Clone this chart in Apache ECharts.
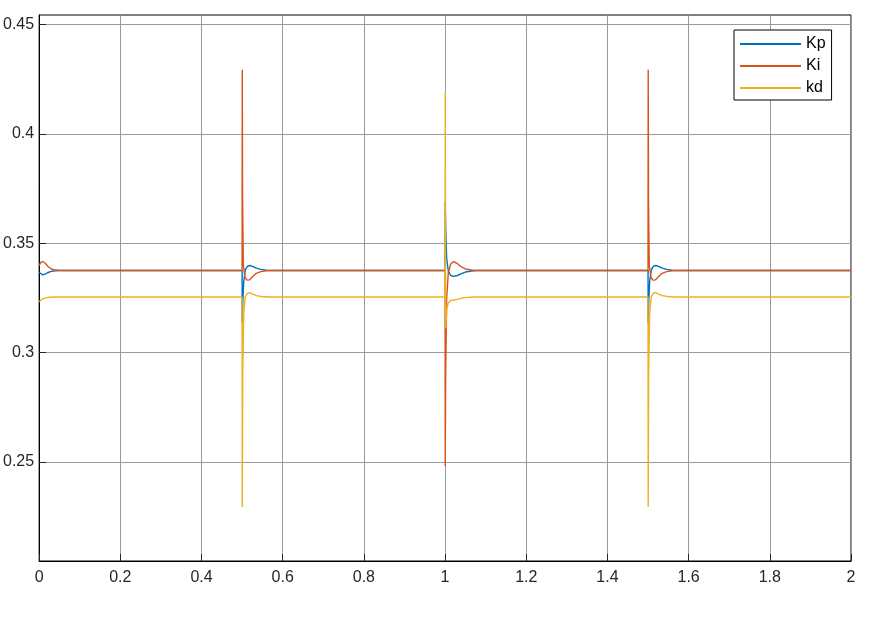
<!DOCTYPE html>
<html>
<head>
<meta charset="utf-8">
<script src="https://cdn.jsdelivr.net/npm/echarts@6/dist/echarts.min.js"></script>
<style>html,body{margin:0;padding:0;background:#fff}#c{width:875px;height:619px}</style>
</head>
<body>
<div id="c"></div>
<script>
// series names
const seriesNames = ['Kp', 'Ki', 'kd'];
// tick values
const xTicks = [0, 0.2, 0.4, 0.6, 0.8, 1, 1.2, 1.4, 1.6, 1.8, 2];
const yTicks = [0.25, 0.3, 0.35, 0.4, 0.45];

// Kp
const kpT = [0, 0.004, 0.009, 0.015, 0.022, 0.03, 0.04, 0.055,
  0.5, 0.5004, 0.5015, 0.504, 0.508, 0.513, 0.519, 0.526, 0.535, 0.546, 0.56, 0.575,
  1.0, 1.0004, 1.0015, 1.004, 1.008, 1.014, 1.021, 1.029, 1.039, 1.05, 1.065, 1.08,
  1.5, 1.5004, 1.5015, 1.504, 1.508, 1.513, 1.519, 1.526, 1.535, 1.546, 1.56, 1.575,
  2.0];
const kpV = [0.3366, 0.3358, 0.3355, 0.3359, 0.3366, 0.3371, 0.3374, 0.3375,
  0.3375, 0.3135, 0.3220, 0.3325, 0.3378, 0.3394, 0.3398, 0.3394, 0.3386, 0.3380, 0.3376, 0.3375,
  0.3375, 0.3689, 0.3570, 0.3430, 0.3372, 0.3352, 0.3348, 0.3351, 0.3360, 0.3368, 0.3373, 0.3375,
  0.3375, 0.3135, 0.3220, 0.3325, 0.3378, 0.3394, 0.3398, 0.3394, 0.3386, 0.3380, 0.3376, 0.3375,
  0.3375];

// Ki
const kiT = [0, 0.004, 0.009, 0.015, 0.022, 0.03, 0.04, 0.055,
  0.5, 0.5004, 0.5012, 0.503, 0.507, 0.512, 0.518, 0.525, 0.535, 0.546, 0.56, 0.575,
  1.0, 1.0004, 1.0015, 1.004, 1.008, 1.014, 1.021, 1.029, 1.039, 1.05, 1.065, 1.08,
  1.5, 1.5004, 1.5012, 1.503, 1.507, 1.512, 1.518, 1.525, 1.535, 1.546, 1.56, 1.575,
  2.0];
const kiV = [0.3398, 0.3412, 0.3416, 0.3408, 0.3393, 0.3382, 0.3377, 0.3375,
  0.3375, 0.4293, 0.3700, 0.3400, 0.3345, 0.3331, 0.3332, 0.3345, 0.3362, 0.3370, 0.3374, 0.3375,
  0.3375, 0.2481, 0.2900, 0.3250, 0.3365, 0.3405, 0.3416, 0.3408, 0.3393, 0.3382, 0.3377, 0.3375,
  0.3375, 0.4293, 0.3700, 0.3400, 0.3345, 0.3331, 0.3332, 0.3345, 0.3362, 0.3370, 0.3374, 0.3375,
  0.3375];

// kd
const kdT = [0, 0.003, 0.008, 0.015, 0.025, 0.04,
  0.5, 0.5004, 0.5015, 0.504, 0.508, 0.513, 0.518, 0.525, 0.535, 0.548, 0.565,
  1.0, 1.0004, 1.0015, 1.004, 1.008, 1.014, 1.021, 1.03, 1.042, 1.055, 1.07,
  1.5, 1.5004, 1.5015, 1.504, 1.508, 1.513, 1.518, 1.525, 1.535, 1.548, 1.565,
  2.0];
const kdV = [0.3232, 0.3238, 0.3245, 0.3250, 0.3253, 0.3254,
  0.3254, 0.2294, 0.2900, 0.3180, 0.3255, 0.3270, 0.3274, 0.3268, 0.3260, 0.3256, 0.3254,
  0.3254, 0.4188, 0.3110, 0.3195, 0.3228, 0.3238, 0.3240, 0.3243, 0.3249, 0.3252, 0.3254,
  0.3254, 0.2294, 0.2900, 0.3180, 0.3255, 0.3270, 0.3274, 0.3268, 0.3260, 0.3256, 0.3254,
  0.3254];

const colors = ['#0072BD', '#D95319', '#EDB120'];
const pairs = (t, v) => t.map((x, i) => [x, v[i]]);
const seriesData = [pairs(kpT, kpV), pairs(kiT, kiV), pairs(kdT, kdV)];

const font = "'Liberation Sans', Arial, Helvetica, sans-serif";
const chart = echarts.init(document.getElementById('c'), null, {renderer: 'canvas'});
chart.setOption({
  animation: false,
  backgroundColor: '#fff',
  color: colors,
  grid: {left: 39, right: 24, top: 15, bottom: 58, show: true, borderColor: '#000', borderWidth: 1, backgroundColor: '#fff'},
  legend: {
    data: seriesNames,
    orient: 'vertical',
    left: 734, top: 30,
    padding: [6, 6, 4, 6],
    itemGap: 6,
    itemWidth: 61,
    itemHeight: 2,
    icon: 'rect',
    backgroundColor: '#fff',
    borderColor: '#000',
    borderWidth: 1,
    borderRadius: 0,
    textStyle: {fontFamily: font, fontSize: 16, color: '#000', lineHeight: 16}
  },
  xAxis: {
    type: 'value', min: 0, max: 2, interval: 0.2,
    axisLine: {show: true, lineStyle: {color: '#000', width: 1}},
    axisTick: {show: true, inside: true, length: 7, lineStyle: {color: '#262626'}},
    axisLabel: {fontFamily: font, fontSize: 16, color: '#262626', margin: 9,
      customValues: xTicks},
    splitLine: {show: true, lineStyle: {color: '#999', width: 1}}
  },
  yAxis: {
    type: 'value', min: 0.2047, max: 0.4543,
    axisLine: {show: true, lineStyle: {color: '#000', width: 1}},
    axisTick: {show: true, inside: true, length: 7, lineStyle: {color: '#262626'}, customValues: yTicks},
    axisLabel: {fontFamily: font, fontSize: 16, color: '#262626', margin: 5, customValues: yTicks},
    splitLine: {show: true, lineStyle: {color: '#999', width: 1}}
  },
  series: seriesNames.map((n, i) => ({
    name: n, type: 'line', data: seriesData[i], showSymbol: false, symbol: 'none',
    lineStyle: {width: 1.4, color: colors[i]}, itemStyle: {color: colors[i]}, z: 2 + i
  }))
});
</script>
</body>
</html>
